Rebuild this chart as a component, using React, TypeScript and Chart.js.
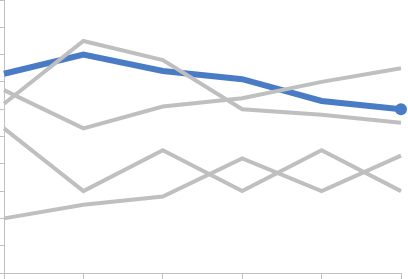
import React, { useEffect, useRef } from "react";
import { Chart, registerables } from "chart.js";

Chart.register(...registerables);

const categories = ["1", "2", "3", "4", "5", "6"];
const highlight = [7.3, 8.0, 7.4, 7.1, 6.3, 6.0];
const seriesA = [6.2, 8.5, 7.8, 6.0, 5.8, 5.5];
const seriesB = [6.7, 5.3, 6.1, 6.4, 7.0, 7.5];
const seriesC = [5.3, 3.0, 4.5, 3.0, 4.5, 3.0];
const seriesD = [2.0, 2.5, 2.8, 4.2, 3.0, 4.3];
const yMin = 0;
const yMax = 10;
const yStep = 1;

const GRAY = "#BFBFBF";
const BLUE = "#4A7CC6";
const AXIS = "#C0C0C0";

export default function App() {
  const ref = useRef<HTMLCanvasElement | null>(null);
  useEffect(() => {
    if (!ref.current) return;
    const grayDs = (data: number[]) => ({
      data,
      borderColor: GRAY,
      borderWidth: 4,
      pointRadius: 0,
      tension: 0,
      fill: false,
      clip: false as any,
    });
    const chart = new Chart(ref.current, {
      type: "line",
      data: {
        labels: categories,
        datasets: [
          grayDs(seriesA),
          grayDs(seriesB),
          grayDs(seriesC),
          grayDs(seriesD),
          {
            data: highlight,
            borderColor: BLUE,
            backgroundColor: BLUE,
            borderWidth: 6,
            pointRadius: highlight.map((_, i) => (i === highlight.length - 1 ? 6 : 0)),
            pointBorderWidth: 0,
            tension: 0,
            fill: false,
            clip: false as any,
          },
        ],
      },
      options: {
        animation: false,
        responsive: false,
        maintainAspectRatio: false,
        layout: { autoPadding: false, padding: { top: 0, right: 7, left: 0, bottom: 0 } },
        plugins: { legend: { display: false }, tooltip: { enabled: false } },
        scales: {
          x: {
            offset: false,
            ticks: { display: false },
            grid: { drawOnChartArea: false, drawTicks: true, tickLength: 6, color: AXIS },
            border: { display: true, color: AXIS, width: 1 },
          },
          y: {
            min: yMin,
            max: yMax,
            ticks: { display: false, stepSize: yStep },
            grid: { drawOnChartArea: false, drawTicks: true, tickLength: 4, color: AXIS },
            border: { display: true, color: AXIS, width: 1 },
          },
        },
      },
    });
    return () => chart.destroy();
  }, []);
  return (
    <div style={{ position: "absolute", left: 0, top: 0, width: 408, height: 279, background: "#fff" }}>
      <canvas ref={ref} width={408} height={279} style={{ display: "block" }} />
    </div>
  );
}
